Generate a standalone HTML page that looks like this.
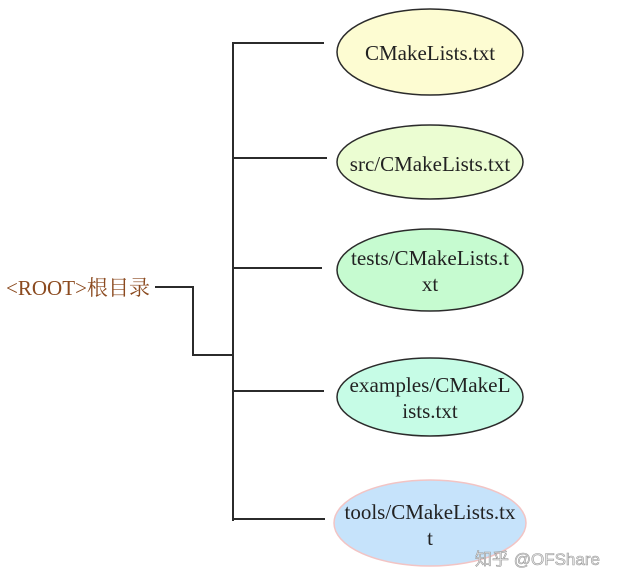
<!DOCTYPE html>
<html><head><meta charset="utf-8"><style>
html,body{margin:0;padding:0;background:#fff;width:621px;height:585px;overflow:hidden}
</style></head><body>
<svg width="621" height="585" viewBox="0 0 621 585" xmlns="http://www.w3.org/2000/svg">
<g stroke="#2b2b2b" stroke-width="2" fill="none">
<polyline points="155,287 193,287 193,355 233,355"/>
<line x1="233" y1="42" x2="233" y2="521"/>
<line x1="233" y1="43" x2="324" y2="43"/>
<line x1="233" y1="158" x2="327" y2="158"/>
<line x1="233" y1="268" x2="322" y2="268"/>
<line x1="233" y1="391" x2="324" y2="391"/>
<line x1="233" y1="519" x2="325" y2="519"/>
</g>
<g stroke="#2b2b2b" stroke-width="1.5">
<ellipse cx="430" cy="52" rx="93" ry="43" fill="#fdfcd2"/>
<ellipse cx="430" cy="162" rx="93" ry="37" fill="#ebfdd2"/>
<ellipse cx="430" cy="270" rx="93" ry="41" fill="#c6fbd0"/>
<ellipse cx="430" cy="397" rx="93" ry="39" fill="#c6fce6"/>
</g>
<ellipse cx="430" cy="523" rx="96" ry="43" fill="#c6e3fb" stroke="#f2c4c4" stroke-width="1.5"/>
<g font-family="Liberation Serif, serif" font-size="21" fill="#222" text-anchor="middle">
<text x="430" y="60">CMakeLists.txt</text>
<text x="430" y="171">src/CMakeLists.txt</text>
<text x="430" y="265" textLength="158" lengthAdjust="spacingAndGlyphs">tests/CMakeLists.t</text>
<text x="430" y="291">xt</text>
<text x="430" y="392" textLength="161" lengthAdjust="spacingAndGlyphs">examples/CMakeL</text>
<text x="430" y="418">ists.txt</text>
<text x="430" y="519" textLength="171" lengthAdjust="spacingAndGlyphs">tools/CMakeLists.tx</text>
<text x="430" y="545">t</text>
</g>
<text x="6" y="295" font-family="Liberation Serif, 'Noto Serif CJK SC', serif" font-size="21" fill="#8b4a1f" textLength="144" lengthAdjust="spacingAndGlyphs">&lt;ROOT&gt;根目录</text>
<text x="475" y="565" font-family="Liberation Sans, 'Noto Sans CJK SC', sans-serif" font-size="17" fill="#e8e8e8" stroke="#999" stroke-width="0.6">知乎 @OFShare</text>
</svg>
</body></html>
